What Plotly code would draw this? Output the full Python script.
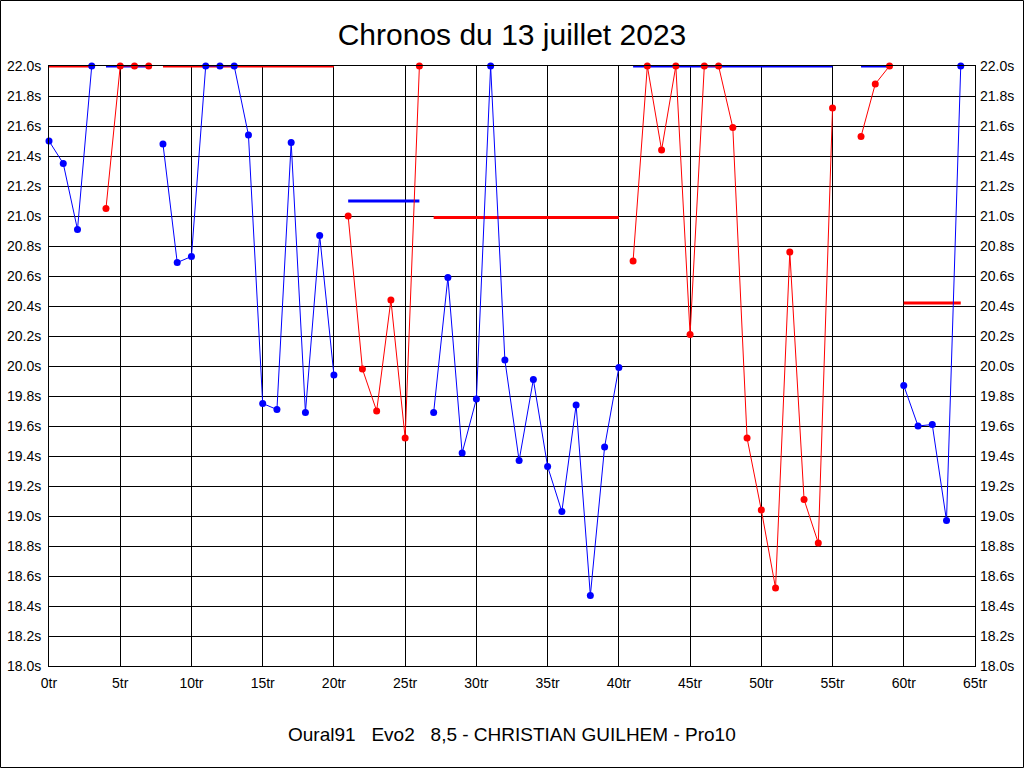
import plotly.graph_objects as go

# ---- data ----
laps = list(range(0, 65))

blue_times = [
    21.50, 21.35, 20.91, 22.00, None, None, None, None,
    21.48, 20.69, 20.73, 22.00, 22.00, 22.00, 21.54, 19.75, 19.71, 21.49, 19.69, 20.87, 19.94,
    None, None, None, None, None, None,
    19.69, 20.59, 19.42, 19.78, 22.00, 20.04, 19.37, 19.91, 19.33, 19.03, 19.74, 18.47, 19.46, 19.99,
    None, None, None, None, None, None, None, None, None, None, None, None, None, None, None,
    None, None, None, None,
    19.87, 19.60, 19.61, 18.97, 22.00,
]

red_times = [
    None, None, None, None, 21.05, 22.00, 22.00, 22.00,
    None, None, None, None, None, None, None, None, None, None, None, None, None,
    21.00, 19.98, 19.70, 20.44, 19.52, 22.00,
    None, None, None, None, None, None, None, None, None, None, None, None, None, None,
    20.70, 22.00, 21.44, 22.00, 20.21, 22.00, 22.00, 21.59, 19.52, 19.04, 18.52, 20.76, 19.11, 18.82, 21.72,
    None,
    21.53, 21.88, 22.00,
    None, None, None, None, None,
]

# thick reference levels (lap start, lap end, level)
blue_ref_start = [4, 21, 41, 57]
blue_ref_end = [7, 26, 55, 59]
blue_ref_level = [22.00, 21.10, 22.00, 22.00]

red_ref_start = [0, 8, 27, 60]
red_ref_end = [3, 20, 40, 64]
red_ref_level = [22.00, 22.00, 20.99, 20.42]

y_min, y_max = 18.0, 22.0
x_min, x_max = 0, 65

title_text = "Chronos du 13 juillet 2023"
bottom_text = "Oural91\u00a0\u00a0\u00a0Evo2\u00a0\u00a0\u00a08,5 - CHRISTIAN GUILHEM - Pro10"

BLUE = "#0000FF"
RED = "#FF0000"
FONT = "Arial, 'Liberation Sans', sans-serif"


def segments(starts, ends, levels):
    xs, ys = [], []
    for s, e, lv in zip(starts, ends, levels):
        xs += [s, e, None]
        ys += [lv, lv, None]
    return xs, ys


fig = go.Figure()

bx, by = segments(blue_ref_start, blue_ref_end, blue_ref_level)
rx, ry = segments(red_ref_start, red_ref_end, red_ref_level)

fig.add_trace(go.Scatter(x=rx, y=ry, mode="lines", line=dict(color=RED, width=3),
                         cliponaxis=False, hoverinfo="skip", showlegend=False))
fig.add_trace(go.Scatter(x=bx, y=by, mode="lines", line=dict(color=BLUE, width=3),
                         cliponaxis=False, hoverinfo="skip", showlegend=False))

fig.add_trace(go.Scatter(x=laps, y=blue_times, mode="lines+markers", yaxis="y2",
                         line=dict(color=BLUE, width=1), marker=dict(color=BLUE, size=7),
                         connectgaps=False, cliponaxis=False, showlegend=False))
fig.add_trace(go.Scatter(x=laps, y=red_times, mode="lines+markers", yaxis="y2",
                         line=dict(color=RED, width=1), marker=dict(color=RED, size=7),
                         connectgaps=False, cliponaxis=False, showlegend=False))

L, R, T, B = 49, 49, 66, 102
W, H = 1024, 768
pw, ph = W - L - R, H - T - B


def px_to_paper_x(px):
    return (px - L) / pw


def px_to_paper_y(py):
    return (H - B - py) / ph


axis_font = dict(family=FONT, size=14, color="black")

fig.update_layout(
    width=W, height=H,
    margin=dict(l=L, r=R, t=T, b=B, pad=0, autoexpand=False),
    paper_bgcolor="white", plot_bgcolor="white",
    showlegend=False, hovermode=False,
    title=dict(text=title_text, x=0.5, xref="paper", xanchor="center",
               y=1 - 34 / H, yref="container", yanchor="middle",
               font=dict(family=FONT, size=30, color="black")),
    xaxis=dict(range=[x_min, x_max], dtick=5, tick0=0, ticksuffix="tr", automargin=False,
               showgrid=True, gridcolor="black", gridwidth=1,
               showline=True, linecolor="black", linewidth=1, mirror=True,
               zeroline=False, ticks="", tickfont=axis_font, ticklabelstandoff=4),
    yaxis=dict(range=[y_min, y_max], dtick=0.2, tick0=18.0, tickformat=".1f", ticksuffix="s",
               automargin=False,
               showgrid=True, gridcolor="black", gridwidth=1,
               showline=True, linecolor="black", linewidth=1, mirror=True,
               zeroline=False, ticks="", tickfont=axis_font, ticklabelstandoff=4),
    yaxis2=dict(range=[y_min, y_max], dtick=0.2, tick0=18.0, tickformat=".1f", ticksuffix="s",
                automargin=False,
                overlaying="y", side="right", matches="y", showgrid=False,
                showline=False, zeroline=False, ticks="", tickfont=axis_font,
                ticklabelstandoff=4),
    annotations=[dict(text=bottom_text, x=0.5, xref="paper", xanchor="center",
                      y=px_to_paper_y(734), yref="paper", yanchor="middle",
                      showarrow=False, font=dict(family=FONT, size=19, color="black"))],
    shapes=[dict(type="rect", xref="paper", yref="paper",
                 x0=px_to_paper_x(0.5), x1=px_to_paper_x(W - 0.5),
                 y0=px_to_paper_y(H - 0.5), y1=px_to_paper_y(0.5),
                 line=dict(color="black", width=1), fillcolor="rgba(0,0,0,0)", layer="below")],
)

fig.write_html("out.html", config={"displayModeBar": False},
               post_script="document.body.style.margin='0';document.body.style.overflow='hidden';")
